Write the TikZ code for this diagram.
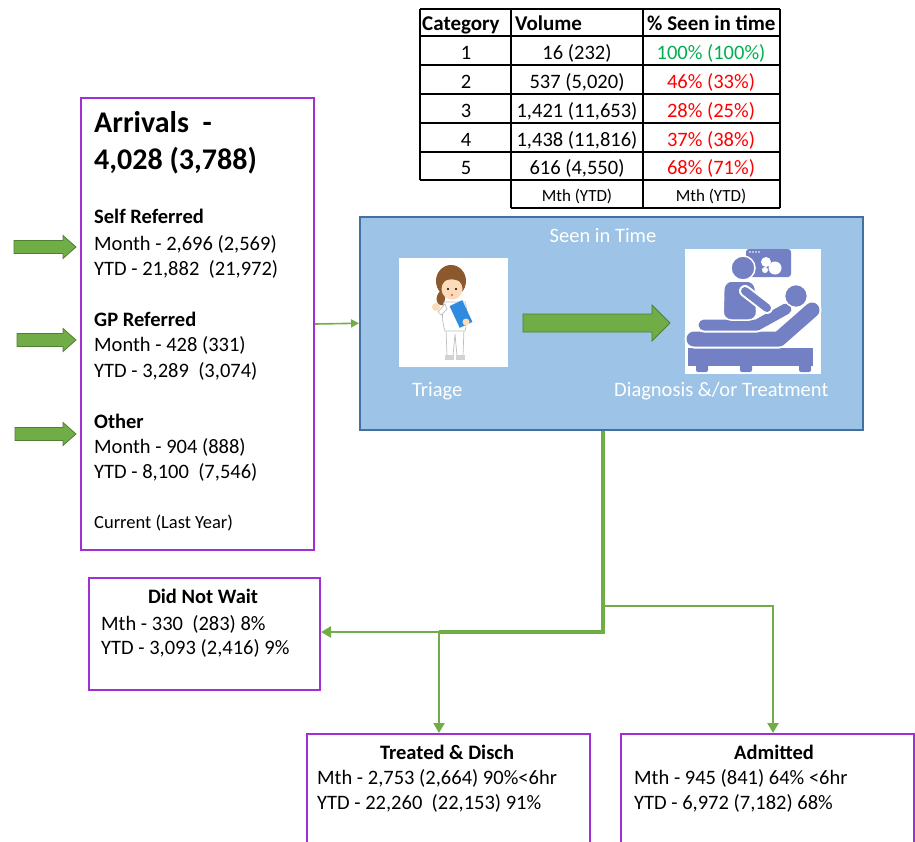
\documentclass[tikz,border=0pt]{standalone}
\usepackage{fontspec}
\setmainfont{Carlito}
\usetikzlibrary{arrows.meta}

\definecolor{boxpurple}{RGB}{160,48,212}
\definecolor{flowgreen}{RGB}{112,173,71}
\definecolor{flowgreendark}{RGB}{80,126,50}
\definecolor{seenfill}{RGB}{157,195,230}
\definecolor{seenedge}{RGB}{65,113,156}
\definecolor{okgreen}{RGB}{0,176,80}
\definecolor{badred}{RGB}{255,0,0}
\definecolor{iconblue}{RGB}{116,128,196}
\definecolor{hairbrown}{RGB}{140,88,45}
\definecolor{skin}{RGB}{251,219,185}
\definecolor{clipblue}{RGB}{46,139,224}
\definecolor{outlinegray}{RGB}{190,190,190}

\tikzset{
  txt/.style={inner sep=0pt, anchor=base west, font=\fontsize{20.5}{24}\selectfont},
  ctxt/.style={inner sep=0pt, anchor=base, font=\fontsize{20.5}{24}\selectfont},
  btxt/.style={txt, font=\fontsize{20.5}{24}\selectfont\bfseries},
  bctxt/.style={ctxt, font=\fontsize{20.5}{24}\selectfont\bfseries},
  hdr/.style={txt, font=\fontsize{21}{24}\selectfont\bfseries},
  smallc/.style={ctxt, font=\fontsize{17}{20}\selectfont},
  purplebox/.style={draw=boxpurple, line width=2pt, fill=white, inner sep=0pt, anchor=north west},
  seenbox/.style={draw=seenedge, line width=1.5pt, fill=seenfill, inner sep=0pt, anchor=north west},
  picbox/.style={fill=white, draw=none, inner sep=0pt, anchor=north west},
  tabline/.style={line width=2pt, black},
  trunk/.style={draw=flowgreen, line width=3.5pt},
  branch/.style={draw=flowgreen, line width=2.2pt},
  tip/.style={-{Triangle[length=10pt,width=11pt]}},
  arrowfill/.style={fill=flowgreen, draw=flowgreendark, line width=0.8pt},
  pics/blockarr/.style n args={4}{code={
    \draw[arrowfill] (0,-#2) -- ({#1-#4},-#2) -- ({#1-#4},-#3) -- (#1,0)
      -- ({#1-#4},#3) -- ({#1-#4},#2) -- (0,#2) -- cycle;}},
}

\begin{document}
\begin{tikzpicture}[x=1pt,y=-1pt]
\useasboundingbox (0,0) rectangle (915,841);
\clip (0,0) rectangle (915,841);

% ---------- category table ----------
\foreach \yy in {9,36,65,94,123,152,180}
  \draw[tabline] (420,\yy) -- (780,\yy);
\draw[tabline] (511,208) -- (780,208);
\draw[tabline] (420,9) -- (420,180);
\foreach \xx in {511,643,780}
  \draw[tabline] (\xx,9) -- (\xx,208);

\node[hdr] (hcat) at (422,30) {Category};
\node[hdr] (hvol) at (515,30) {Volume};
\node[hdr] (hpct) at (647,30) {\% Seen in time};

\node[ctxt] (c1) at (466,59) {1};
\node[ctxt] (v1) at (577,59) {16 (232)};
\node[ctxt, text=okgreen] (p1) at (711,59) {100\% (100\%)};
\node[ctxt] (c2) at (466,88) {2};
\node[ctxt] (v2) at (577,88) {537 (5,020)};
\node[ctxt, text=badred] (p2) at (711,88) {46\% (33\%)};
\node[ctxt] (c3) at (466,117) {3};
\node[ctxt] (v3) at (577,117) {1,421 (11,653)};
\node[ctxt, text=badred] (p3) at (711,117) {28\% (25\%)};
\node[ctxt] (c4) at (466,146) {4};
\node[ctxt] (v4) at (577,146) {1,438 (11,816)};
\node[ctxt, text=badred] (p4) at (711,146) {37\% (38\%)};
\node[ctxt] (c5) at (466,174) {5};
\node[ctxt] (v5) at (577,174) {616 (4,550)};
\node[ctxt, text=badred] (p5) at (711,174) {68\% (71\%)};
\node[smallc] (fvol) at (577,201) {Mth (YTD)};
\node[smallc] (fpct) at (711,201) {Mth (YTD)};

% ---------- arrivals ----------
\node[purplebox, minimum width=233, minimum height=452] (arr) at (80,97) {};
\node[txt, font=\fontsize{30}{34}\selectfont\bfseries] (arrA) at (94,132) {Arrivals\ \ -};
\node[txt, font=\fontsize{30}{34}\selectfont\bfseries] (arrB) at (94,169) {4,028 (3,788)};
\node[btxt] (selfH) at (94,223) {Self Referred};
\node[txt] (selfM) at (94,250) {Month - 2,696 (2,569)};
\node[txt] (selfY) at (94,275) {YTD - 21,882\ \ (21,972)};
\node[btxt] (gpH) at (94,326) {GP Referred};
\node[txt] (gpM) at (94,351) {Month - 428 (331)};
\node[txt] (gpY) at (94,377) {YTD - 3,289\ \ (3,074)};
\node[btxt] (othH) at (94,428) {Other};
\node[txt] (othM) at (94,453) {Month - 904 (888)};
\node[txt] (othY) at (94,478) {YTD - 8,100\ \ (7,546)};
\node[txt, font=\fontsize{18.5}{22}\selectfont] (cur) at (94,528) {Current (Last Year)};

% incoming referral arrows
\pic (inSelf) at (14,247) {blockarr={62}{6.5}{11.5}{13}};
\pic (inGP) at (17,340) {blockarr={59}{6.5}{11.5}{13}};
\pic (inOther) at (15,434) {blockarr={61}{6.5}{11.5}{13}};

% ---------- seen in time ----------
\node[seenbox, minimum width=503, minimum height=213] (seen) at (359,216) {};
\node[ctxt, text=white] (seenT) at (603,242) {Seen in Time};
\node[txt, text=white] (triT) at (412,396) {Triage};
\node[txt, text=white] (diaT) at (614,396) {Diagnosis \&/or Treatment};

% triage picture: nurse with clipboard
\node[picbox, minimum width=109, minimum height=109] (triP) at (399,258) {};
\begin{scope}
  % pony tail and hair
  \fill[hairbrown] (441,290) .. controls (433,298) and (437,307) .. (444,305) -- (446,292) -- cycle;
  \fill[hairbrown] (451,281) ellipse [x radius=15, y radius=16];
  % legs and shoes
  \draw[outlinegray, fill=white, line width=0.7pt] (446,328) -- (447,356) -- (453,356) -- (455,334) -- (457,356) -- (463,356) -- (464,328) -- cycle;
  \fill[outlinegray!70] (445,355) rectangle (454,360);
  \fill[outlinegray!70] (456,355) rectangle (465,360);
  % uniform
  \draw[outlinegray, fill=white, line width=0.7pt] (444,302) .. controls (441,315) and (443,325) .. (445,331) -- (465,331) .. controls (467,322) and (468,312) .. (465,302) -- cycle;
  % waving arm
  \draw[outlinegray, fill=white, line width=0.7pt] (445,304) -- (438,312) -- (441,315) -- (447,309) -- cycle;
  \fill[skin] (436,307) circle [radius=4];
  % face
  \fill[skin] (452,289) circle [radius=10.5];
  \fill[hairbrown] (440,283) .. controls (444,269) and (461,267) .. (464,284) .. controls (456,278) and (448,278) .. (440,283) -- cycle;
  \fill[black] (448,289) circle [radius=1.2];
  \fill[black] (456,289) circle [radius=1.2];
  \fill[red!60] (452,295) circle [radius=1.4];
  % clipboard
  \fill[clipblue, rotate around={25:(461,314)}] (454,302) rectangle (468,326);
  \fill[skin] (466,322) circle [radius=3.5];
\end{scope}

% transfer arrow inside the box
\pic (midArrow) at (523,323) {blockarr={147}{9}{18}{18}};

% diagnosis picture: clinician scanning a patient on a bed
\node[picbox, minimum width=136, minimum height=125] (diaP) at (685,249) {};
\begin{scope}
  % monitor
  \fill[iconblue, rounded corners=3pt] (746,249) rectangle (791,277);
  \fill[white] (766,262) circle [radius=5];
  \fill[white] (775,268) circle [radius=6.5];
  \fill[white] (765,270) circle [radius=3];
  \foreach \dx in {750,753,756,759} \fill[white] (\dx,252) circle [radius=0.9];
  % probe cable
  \draw[white, line width=1pt] (773,277) .. controls (774,290) and (762,288) .. (764,300);
  % bed base and wheels
  \fill[iconblue] (688,348) rectangle (813,366);
  \fill[iconblue, rounded corners=2pt] (696,363) rectangle (708,372);
  \fill[iconblue, rounded corners=2pt] (740,363) rectangle (752,372);
  \fill[iconblue, rounded corners=2pt] (799,363) rectangle (811,372);
  % mattress with raised back
  \draw[white, line width=19pt, line cap=round, line join=round] (694,339) -- (779,339) -- (812,310);
  \draw[iconblue, line width=15pt, line cap=round, line join=round] (694,339) -- (779,339) -- (812,310);
  % patient
  \draw[white, line width=15pt, line cap=round, line join=round] (704,325) -- (757,325) -- (786,309);
  \draw[iconblue, line width=11pt, line cap=round, line join=round] (704,325) -- (757,325) -- (786,309);
  \draw[white, fill=iconblue, line width=1.5pt] (796,296) circle [radius=11.5];
  % clinician
  \draw[white, fill=iconblue, line width=1.5pt, rounded corners=8pt] (724,281) -- (755,281) -- (757,320) -- (723,320) -- cycle;
  \draw[white, line width=12pt, line cap=round] (745,291) -- (767,308);
  \draw[iconblue, line width=8pt, line cap=round] (745,291) -- (767,308);
  \draw[white, fill=iconblue, line width=1.5pt] (743,268) circle [radius=12];
\end{scope}

% ---------- outcome boxes ----------
\node[purplebox, minimum width=231, minimum height=112] (dnw) at (88,577) {};
\node[bctxt] (dnwH) at (203,603) {Did Not Wait};
\node[txt] (dnwM) at (101,630) {Mth - 330\ \ (283) 8\%};
\node[txt] (dnwY) at (101,654) {YTD - 3,093 (2,416) 9\%};

\node[purplebox, minimum width=283, minimum height=130] (trt) at (306,733) {};
\node[bctxt] (trtH) at (447,759) {Treated \& Disch};
\node[txt] (trtM) at (317,784) {Mth - 2,753 (2,664) 90\%<6hr};
\node[txt] (trtY) at (317,809) {YTD - 22,260\ \ (22,153) 91\%};

\node[purplebox, minimum width=293, minimum height=130] (adm) at (620,733) {};
\node[bctxt] (admH) at (774,759) {Admitted};
\node[txt] (admM) at (634,784) {Mth - 945 (841) 64\% <6hr};
\node[txt] (admY) at (634,809) {YTD - 6,972 (7,182) 68\%};

% ---------- connectors ----------
\draw[draw=flowgreen, line width=1.6pt, -{Triangle[length=8pt,width=8pt]}] (arr.east) -- (seen.west);

\coordinate (jAdm) at (603,606);
\coordinate (jLow) at (603,632);
\coordinate (jTrt) at (439,632);
\coordinate (jRight) at (773,606);

\draw[trunk] (seen.south -| jLow) -- (jLow) -- (jTrt);
\draw[branch, tip] (jTrt) -- (dnw.east |- jTrt);
\draw[branch, tip] (jTrt) -- (trt.north -| jTrt);
\draw[branch, tip] (jAdm) -- (jRight) -- (adm.north -| jRight);
\end{tikzpicture}
\end{document}
